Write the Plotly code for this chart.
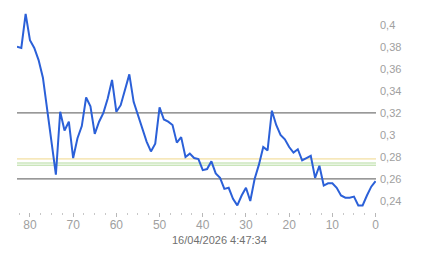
import plotly.graph_objects as go

days_ago = list(range(83, -1, -1))
price = [
    0.380, 0.379, 0.410, 0.386, 0.379, 0.368, 0.352, 0.322, 0.295, 0.264,  # 83..74
    0.321, 0.304, 0.312, 0.279, 0.297, 0.308, 0.334, 0.326, 0.301, 0.312,  # 73..64
    0.320, 0.333, 0.350, 0.321, 0.327, 0.342, 0.355, 0.330, 0.318, 0.306,  # 63..54
    0.294, 0.285, 0.292, 0.325, 0.314, 0.312, 0.309, 0.293, 0.298, 0.280,  # 53..44
    0.283, 0.279, 0.278, 0.268, 0.269, 0.276, 0.265, 0.261, 0.251, 0.252,  # 43..34
    0.242, 0.236, 0.245, 0.252, 0.240, 0.260, 0.273, 0.289, 0.286, 0.322,  # 33..24
    0.309, 0.300, 0.296, 0.289, 0.284, 0.287, 0.277, 0.279, 0.281, 0.261,  # 23..14
    0.272, 0.254, 0.256, 0.256, 0.252, 0.245, 0.243, 0.243, 0.244, 0.236,  # 13..4
    0.236, 0.245, 0.253, 0.258,                                            # 3..0
]
gray_levels = [0.32, 0.26]
yellow_levels = [0.2782]
green_levels = [0.2745, 0.2725]
x_ticks = [80, 70, 60, 50, 40, 30, 20, 10, 0]
y_ticks = [0.24, 0.26, 0.28, 0.30, 0.32, 0.34, 0.36, 0.38, 0.40]
timestamp = "16/04/2026 4:47:34"

fig = go.Figure()
fig.add_trace(go.Scatter(x=days_ago, y=price, mode="lines",
                         line=dict(color="#2b60d8", width=2), showlegend=False,
                         hoverinfo="skip"))

for lv in gray_levels:
    fig.add_hline(y=lv, line=dict(color="#777777", width=1.2), layer="below")
for lv in yellow_levels:
    fig.add_hline(y=lv, line=dict(color="#f0d88a", width=1), layer="below")
for lv in green_levels:
    fig.add_hline(y=lv, line=dict(color="#b2da9c", width=1), layer="below")

fig.update_layout(
    width=443, height=258,
    margin=dict(l=17, r=67, t=5, b=46),
    paper_bgcolor="white", plot_bgcolor="white",
    separators=",.",
    font=dict(family="Liberation Sans, Arial, sans-serif", size=11, color="#a0a0a0"),
    xaxis=dict(range=[83.0, -0.1], tickvals=x_ticks, showgrid=False, zeroline=False,
               showline=False, ticks="outside", ticklen=4, tickcolor="#b8b8b8",
               tickwidth=1, ticklabelstandoff=-2,
               minor=dict(dtick=2.5, tick0=0, ticks="outside", ticklen=2,
                          tickcolor="#c8c8c8", showgrid=False),
               tickfont=dict(size=12, color="#a0a0a0")),
    yaxis=dict(range=[0.230, 0.418], tickvals=y_ticks, side="right", showgrid=False,
               zeroline=False, showline=False, ticks="", ticklabelstandoff=3,
               tickfont=dict(size=11, color="#a0a0a0")),
)
fig.add_annotation(text=timestamp, xref="paper", yref="paper", x=0.564, y=-0.135,
                   xanchor="center", yanchor="middle", showarrow=False,
                   font=dict(size=11, color="#707070"))

fig.write_html("out.html")
